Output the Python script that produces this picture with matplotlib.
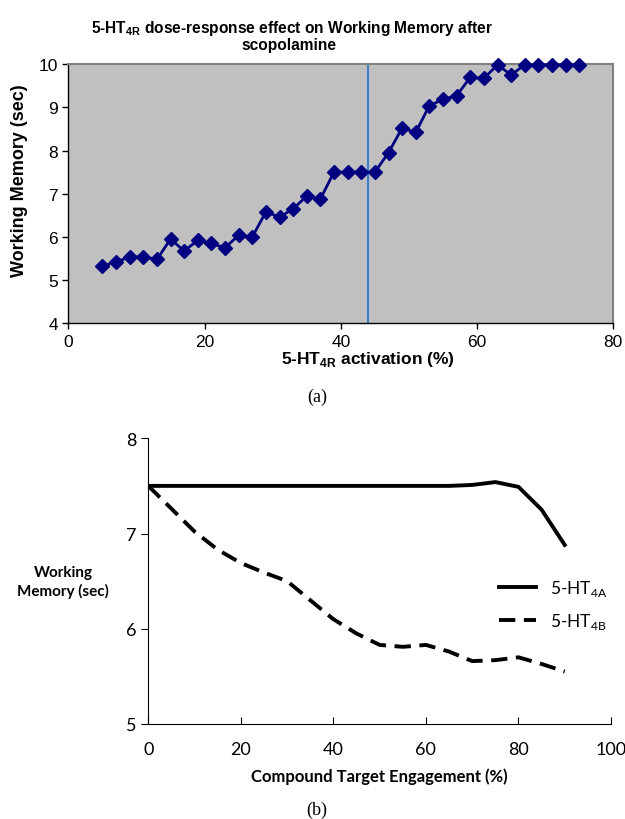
import numpy as np
import matplotlib
matplotlib.use('Agg')
import matplotlib.pyplot as plt

plt.rcParams['mathtext.fontset'] = 'custom'
plt.rcParams['mathtext.rm'] = 'Lato'
plt.rcParams['mathtext.bf'] = 'Liberation Sans:bold'

# (a) dose-response, scopolamine
activation = [5, 7, 9, 11, 13, 15, 17, 19, 21, 23, 25, 27, 29, 31, 33, 35, 37, 39,
              41, 43, 45, 47, 49, 51, 53, 55, 57, 59, 61, 63, 65, 67, 69, 71, 73, 75]
wm_a = [5.33, 5.42, 5.54, 5.54, 5.48, 5.95, 5.68, 5.92, 5.85, 5.75, 6.04, 6.00,
        6.58, 6.46, 6.65, 6.95, 6.88, 7.50, 7.50, 7.50, 7.50, 7.95, 8.52, 8.42,
        9.04, 9.18, 9.27, 9.69, 9.67, 9.98, 9.75, 9.98, 9.98, 9.98, 9.98, 9.98]
threshold = 44

# (b) target engagement
engagement = [0, 5, 10, 15, 20, 25, 30, 35, 40, 45, 50, 55, 60, 65, 70, 75, 80, 85, 90]
wm_4a = [7.50, 7.50, 7.50, 7.50, 7.50, 7.50, 7.50, 7.50, 7.50, 7.50, 7.50, 7.50,
         7.50, 7.50, 7.51, 7.54, 7.49, 7.25, 6.88]
wm_4b = [7.50, 7.26, 7.02, 6.83, 6.69, 6.59, 6.50, 6.30, 6.10, 5.95, 5.83, 5.81,
         5.83, 5.76, 5.66, 5.67, 5.70, 5.63, 5.55]

fig = plt.figure(figsize=(6.25, 8.2), dpi=100)

# ---- top chart ----
arial = 'Liberation Sans'
ax1 = fig.add_axes([0.1093, 0.6043, 0.872, 0.3164])
ax1.set_facecolor('#c0c0c0')
ax1.plot(activation, wm_a, color='#000080', lw=2, marker='D', markersize=7.5,
         markeredgecolor='#000080', zorder=3, clip_on=False)
ax1.axvline(threshold, color='#3d7cc9', lw=1.5, zorder=2)
ax1.set_xlim(0, 80)
ax1.set_ylim(4, 10)
ax1.set_xticks([0, 20, 40, 60, 80])
ax1.set_yticks([4, 5, 6, 7, 8, 9, 10])
for s in ['top', 'right']:
    ax1.spines[s].set_color('#808080')
    ax1.spines[s].set_linewidth(1.5)
for s in ['left', 'bottom']:
    ax1.spines[s].set_color('black')
    ax1.spines[s].set_linewidth(1)
ax1.tick_params(direction='out', length=4, width=1, labelsize=12.5)
for lab in ax1.get_xticklabels() + ax1.get_yticklabels():
    lab.set_family(arial)

fig.text(0.467, 0.9655, r'5-HT$_{\mathbf{4R}}$ dose-response effect on Working Memory after',
         ha='center', va='center', family=arial, weight='bold', fontsize=11.2)
fig.text(0.462, 0.945, 'scopolamine', ha='center', va='center', family=arial,
         weight='bold', fontsize=11.2)
fig.text(0.032, 0.78, 'Working Memory (sec)', rotation=90, ha='center', va='center',
         family=arial, weight='bold', fontsize=13)
fig.text(0.589, 0.561, r'5-HT$_{\mathbf{4R}}$ activation (%)', ha='center', va='center',
         family=arial, weight='bold', fontsize=12.5)
fig.text(0.507, 0.516, '(a)', ha='center', va='center', family='Liberation Serif',
         fontsize=13)

# ---- bottom chart ----
ax2 = fig.add_axes([0.2373, 0.1159, 0.7403, 0.3484])
ax2.plot(engagement, wm_4a, color='black', lw=2.8, label=r'5-HT$_{\mathrm{4A}}$')
ax2.plot(engagement, wm_4b, color='black', lw=2.8, ls=(0, (4.2, 2.2)),
         label=r'5-HT$_{\mathrm{4B}}$')
ax2.set_xlim(0, 100)
ax2.set_ylim(5, 8)
ax2.set_xticks([0, 20, 40, 60, 80, 100])
ax2.set_yticks([5, 6, 7, 8])
ax2.spines['top'].set_visible(False)
ax2.spines['right'].set_visible(False)
ax2.tick_params(axis='y', direction='out', length=5, width=0.8, labelsize=13)
ax2.tick_params(axis='x', direction='in', length=5, width=0.8, labelsize=13, pad=12)
for lab in ax2.get_xticklabels() + ax2.get_yticklabels():
    lab.set_family('Lato')

leg = ax2.legend(loc='upper left', bbox_to_anchor=(0.725, 0.565), frameon=False,
                 handlelength=2.1, labelspacing=0.75, handletextpad=0.8,
                 prop={'family': 'Lato', 'size': 12.5})

fig.text(0.101, 0.29, 'Working\nMemory (sec)', ha='center', va='center',
         family='Lato', weight='bold', fontsize=11, linespacing=1.3)
fig.text(0.607, 0.0525, 'Compound Target Engagement (%)', ha='center', va='center',
         family='Lato', weight='bold', fontsize=12)
fig.text(0.507, 0.012, '(b)', ha='center', va='center', family='Liberation Serif',
         fontsize=13)

fig.savefig('out.png', dpi=100)
